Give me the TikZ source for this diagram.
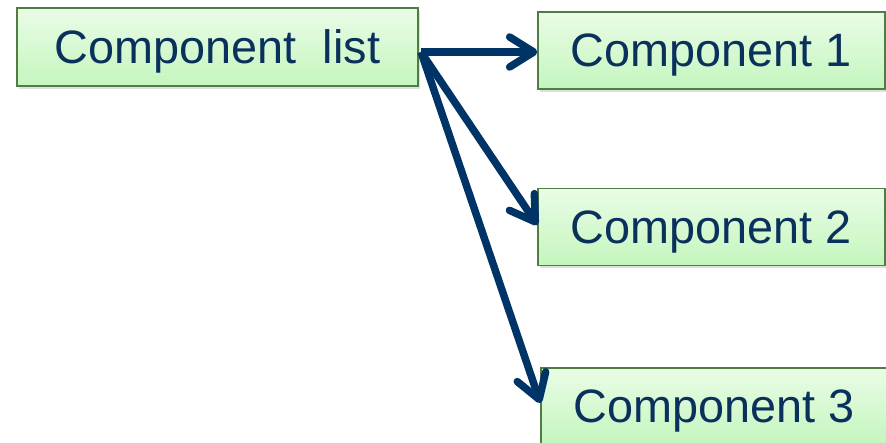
\documentclass[tikz,border=0pt]{standalone}
\usepackage{fontspec}
\setmainfont{Liberation Sans}
\usepackage{xcolor}
\usetikzlibrary{positioning, arrows.meta, shadows}
\definecolor{navy}{RGB}{0,51,102}
\definecolor{textnavy}{RGB}{10,48,92}
\definecolor{boxedge}{RGB}{80,125,65}
\definecolor{greentop}{RGB}{234,252,230}
\definecolor{greenbot}{RGB}{196,246,190}
\tikzset{
  compbox/.style={draw=boxedge, line width=1.2bp, top color=greentop, bottom color=greenbot,
    minimum width=347bp, minimum height=77bp, inner sep=0pt, text=textnavy,
    font=\fontsize{47}{56}\selectfont, text depth=0pt,
    drop shadow={shadow xshift=2bp, shadow yshift=-3bp, opacity=0.25}},
  link/.style={draw=navy, line width=7.5bp,
    -{Straight Barb[length=24bp, width=30bp, line cap=round, line join=round]}}
}
\begin{document}
\begin{tikzpicture}[x=1bp, y=-1bp]
        \useasboundingbox (0,0) rectangle (886,443);
        \node[compbox, minimum width=401bp, minimum height=78bp] (list) at (217.5,47) {Component\ \ list};
        \node[compbox] (c1) at (711.5,50.5) {Component 1};
        \node[compbox] (c2) at (711.5,227) {Component 2};
        \node[compbox] (c3) at (714.5,406.5) {Component 3};
        \coordinate (src) at (421,52);
        \draw[link] (src) -- (c1.west |- src);
        \draw[link] (src) -- ([yshift=2bp]c2.west);
        \draw[link] (src) -- ([yshift=3.5bp]c3.west);
    \end{tikzpicture}
\end{document}
